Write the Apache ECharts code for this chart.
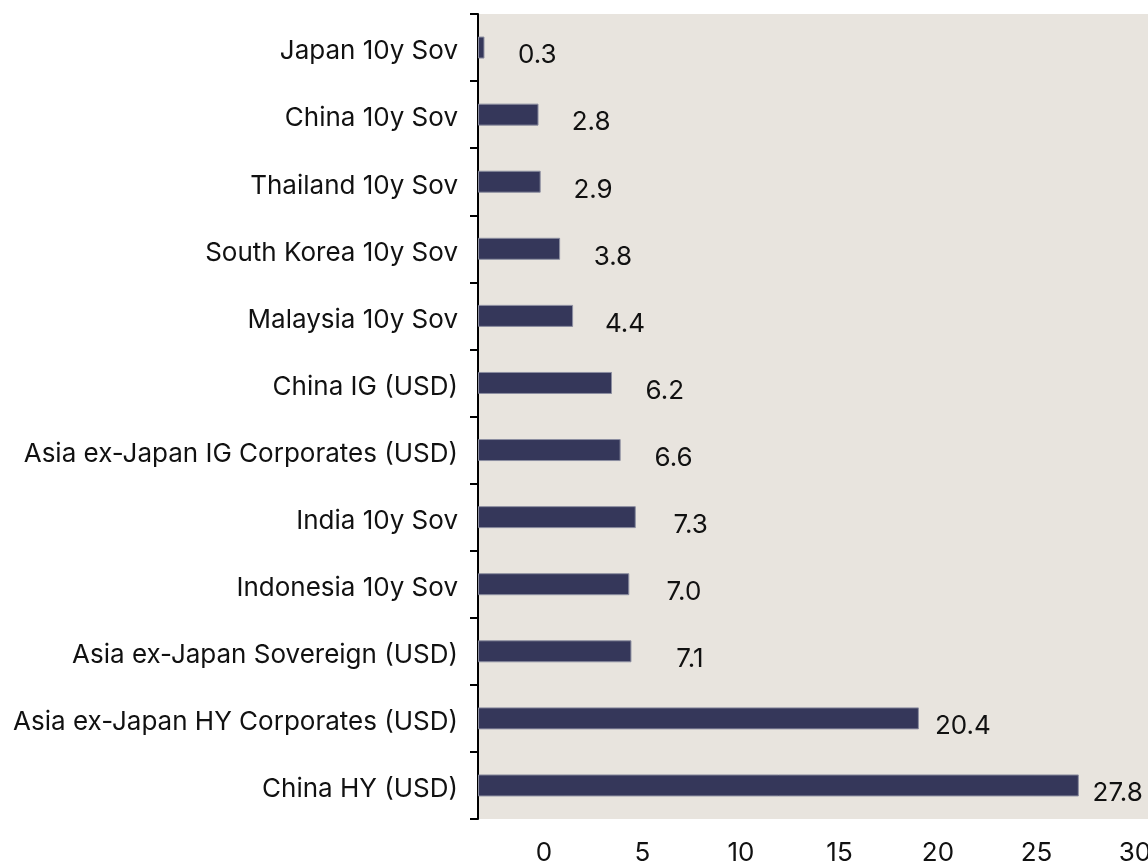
<!DOCTYPE html>
<html>
<head>
<meta charset="utf-8">
<script src="https://cdn.jsdelivr.net/npm/echarts@6/dist/echarts.min.js"></script>
<style>
  html, body { margin: 0; padding: 0; background: #ffffff; }
  #chart { width: 1148px; height: 861px; }
</style>
</head>
<body>
<div id="chart"></div>
<script>
// Categories, top to bottom
const categories = [
  'Japan 10y Sov',
  'China 10y Sov',
  'Thailand 10y Sov',
  'South Korea 10y Sov',
  'Malaysia 10y Sov',
  'China IG (USD)',
  'Asia ex-Japan IG Corporates (USD)',
  'India 10y Sov',
  'Indonesia 10y Sov',
  'Asia ex-Japan Sovereign (USD)',
  'Asia ex-Japan HY Corporates (USD)',
  'China HY (USD)'
];

// Values shown on each bar
const values = [0.3, 2.8, 2.9, 3.8, 4.4, 6.2, 6.6, 7.3, 7.0, 7.1, 20.4, 27.8];

// Tick labels of the bottom scale
const tickLabels = ['0', '5', '10', '15', '20', '25', '30'];

const FONT = 'Inter, sans-serif';
const FONT_SIZE = 26;
const TEXT = '#111111';
const BAR = '#35375a';

const chart = echarts.init(document.getElementById('chart'), null, { renderer: 'canvas' });

// Label of the longest bar sits a little closer so it stays on the canvas
const seriesData = values.map((v, i) => {
  const item = { value: v };
  if (i === values.length - 1) {
    item.label = { distance: 64 };
  }
  return item;
});

chart.setOption({
  animation: false,
  backgroundColor: '#ffffff',
  grid: {
    left: 478,
    right: 0,
    top: 14,
    bottom: 42,
    outerBoundsMode: 'none',
    containLabel: false,
    show: true,
    backgroundColor: '#e8e4de',
    borderWidth: 0
  },
  xAxis: [
    {
      // scale used by the bars
      type: 'value',
      min: 0,
      max: 31,
      show: false
    },
    {
      // scale carrying the printed tick labels
      type: 'value',
      position: 'bottom',
      min: -3.35,
      max: 30.66,
      minInterval: 5,
      maxInterval: 5,
      axisLine: { show: false },
      axisTick: { show: false },
      splitLine: { show: false },
      axisLabel: {
        margin: 21,
        fontFamily: FONT,
        fontSize: FONT_SIZE,
        color: TEXT,
        hideOverlap: false,
        formatter: (v) => {
          const s = String(Math.round(v));
          return (Math.abs(v - Math.round(v)) < 1e-6 && tickLabels.includes(s)) ? s : '';
        }
      }
    }
  ],
  yAxis: {
    type: 'category',
    data: categories,
    inverse: true,
    axisLine: { show: true, lineStyle: { color: '#000000', width: 2 } },
    axisTick: { show: true, length: 8, lineStyle: { color: '#000000', width: 2 } },
    axisLabel: {
      margin: 20,
      fontFamily: FONT,
      fontSize: FONT_SIZE,
      color: TEXT,
      verticalAlign: 'top',
      lineHeight: 8
    }
  },
  series: [
    {
      type: 'bar',
      xAxisIndex: 0,
      data: seriesData,
      barWidth: 22,
      itemStyle: {
        color: BAR,
        borderColor: '#8c8ea0',
        borderWidth: 1
      },
      label: {
        show: true,
        position: 'right',
        align: 'right',
        distance: 72,
        offset: [0, 8],
        fontFamily: FONT,
        fontSize: FONT_SIZE,
        color: TEXT,
        formatter: (p) => p.value.toFixed(1)
      }
    }
  ]
});
</script>
</body>
</html>
